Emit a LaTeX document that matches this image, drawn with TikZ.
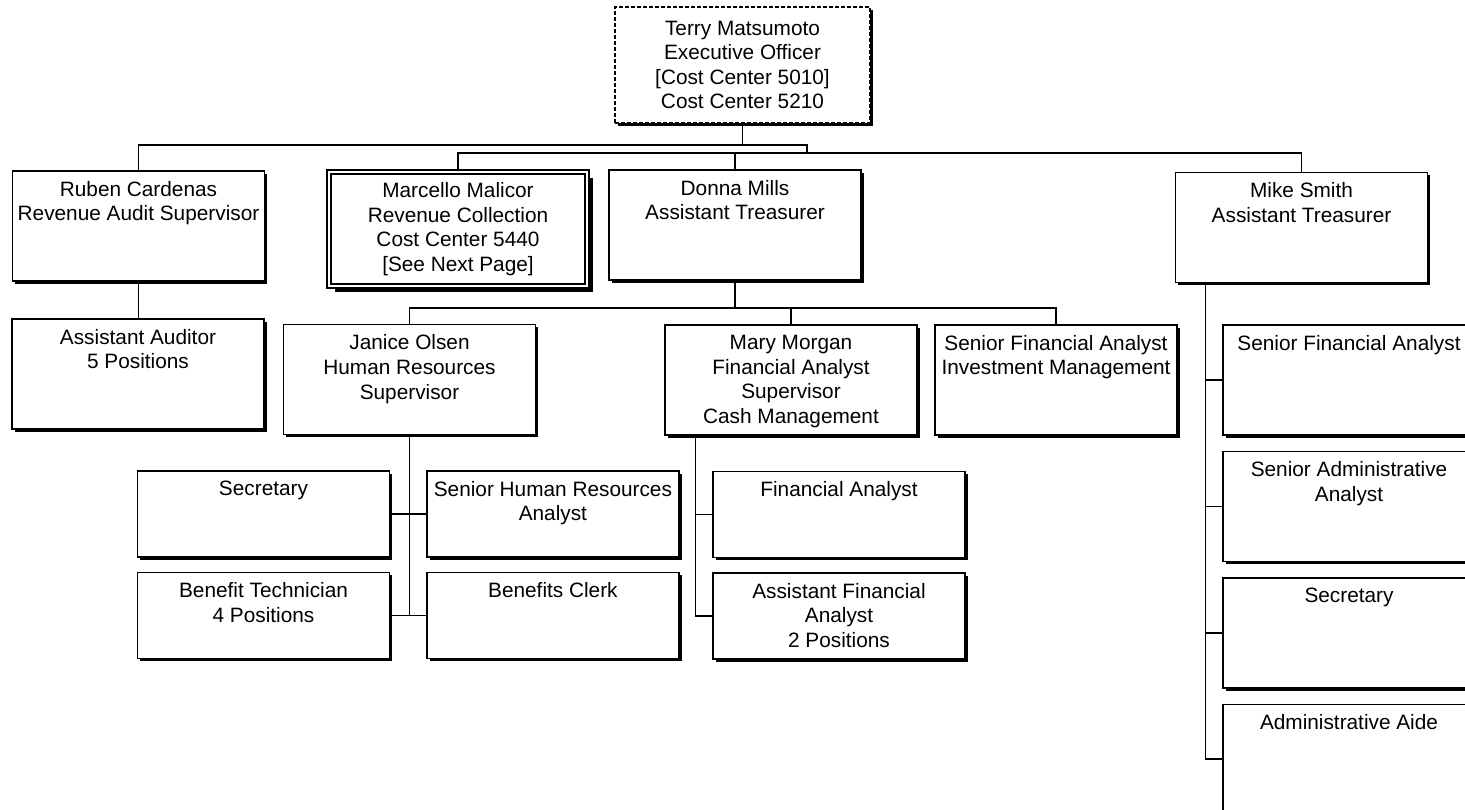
\documentclass[tikz,border=0pt]{standalone}
\usepackage{fontspec}
\setmainfont{Liberation Sans}
\usetikzlibrary{positioning, calc, shadows}

\tikzset{
    boxshadow/.style={drop shadow={shadow xshift=#1, shadow yshift=-#1, opacity=1, fill=black}},
    boxshadow/.default=1.4pt,
    title/.style={anchor=north, align=center, inner sep=5.3pt, font=\fontsize{10.4}{12.3}\selectfont},
    post/.style={draw, line width=0.7pt, fill=white, boxshadow, minimum width=126pt, minimum height=55pt, label={[title]north:#1}},
    slot/.style={post={#1}, minimum height=43pt},
    link/.style={line width=0.8pt}
}

\begin{document}
\begin{tikzpicture}[x=0.5pt, y=-0.5pt, node distance=7.5pt]
    \useasboundingbox (0,0) rectangle (1465,809);

    \node (terry) [draw, line width=0.7pt, dash pattern=on 2pt off 1pt, fill=white, boxshadow, minimum width=127.5pt, minimum height=58pt, align=center, font=\fontsize{10.4}{12.3}\selectfont] at (742.5,65) {Terry Matsumoto\\Executive Officer\\{}[Cost Center 5010]\\Cost Center 5210};

    \node (ruben) [post={Ruben Cardenas\\Revenue Audit Supervisor}] at (138.5,226) {};
    \node (marcello) [post={Marcello Malicor\\Revenue Collection\\Cost Center 5440\\{}[See Next Page]}, boxshadow=2.9pt, double, double distance=1.4pt, line width=0.6pt, minimum width=129pt, minimum height=57pt] at (458,229) {};
    \node (donna) [post={Donna Mills\\Assistant Treasurer}] at (735,225) {};
    \node (mike) [post={Mike Smith\\Assistant Treasurer}] at (1301.5,227.5) {};

    \node (asstaud) [post={Assistant Auditor\\5 Positions}] at (138,374) {};
    \node (janice) [post={Janice Olsen\\Human Resources\\Supervisor}] at (409.5,379.5) {};
    \node (mary) [post={Mary Morgan\\Financial Analyst\\Supervisor\\Cash Management}] at (791,380) {};
    \node (invest) [post={Senior Financial Analyst\\Investment Management}, minimum width=121pt] at (1056,380) {};

    \node (hrsec) [slot={Secretary}] at (263.5,514) {};
    \node (hrsra) [slot={Senior Human Resources\\Analyst}, right=18pt of hrsec] {};
    \node (bentech) [slot={Benefit Technician\\4 Positions}, below=7pt of hrsec] {};
    \node (benclerk) [slot={Benefits Clerk}, below=7pt of hrsra] {};
    \node (finan) [slot={Financial Analyst}] at (839,514.5) {};
    \node (asstfin) [slot={Assistant Financial\\Analyst\\2 Positions}, below=7pt of finan] {};

    \node (msfin) [post={Senior Financial Analyst}] at (1349,380) {};
    \node (msadm) [post={Senior Administrative\\Analyst}, below=of msfin] {};
    \node (mssec) [post={Secretary}, below=of msadm] {};
    \node (msaide) [post={Administrative Aide}, below=of mssec] {};

    \coordinate (topbus) at (807,145);
    \coordinate (midbus) at (807,153);
    \coordinate (dbus) at (735,308);
    \coordinate (mmspine) at ($(finan.west)+(-17,0)$);
    \coordinate (msspine) at ($(msfin.west)+(-17,0)$);

    \draw[link] (terry.south) -- (terry.south |- topbus);
    \draw[link] (ruben.north) |- (topbus) -- (midbus);
    \draw[link] (marcello.north) |- (midbus) -| (mike.north);
    \draw[link] (donna.north) -- (donna.north |- midbus);
    \draw[link] (ruben.south) -- (ruben.south |- asstaud.north);

    \draw[link] (donna.south) -- (dbus);
    \draw[link] (janice.north) |- (dbus) -| (invest.north);
    \draw[link] (mary.north) -- (mary.north |- dbus);

    \draw[link] (janice.south) -- (janice.south |- bentech.east);
    \draw[link] (hrsec.east) -- (hrsra.west);
    \draw[link] (bentech.east) -- (benclerk.west);

    \draw[link] (mmspine |- mary.south) -- (mmspine |- asstfin.west) -- (asstfin.west);
    \draw[link] (mmspine) -- (finan.west);

    \draw[link] (msspine |- mike.south) -- (msspine |- msaide.west) -- (msaide.west);
    \draw[link] (msspine) -- (msfin.west);
    \draw[link] (msadm.west) -- (msadm.west -| msspine);
    \draw[link] (mssec.west) -- (mssec.west -| msspine);
\end{tikzpicture}
\end{document}
